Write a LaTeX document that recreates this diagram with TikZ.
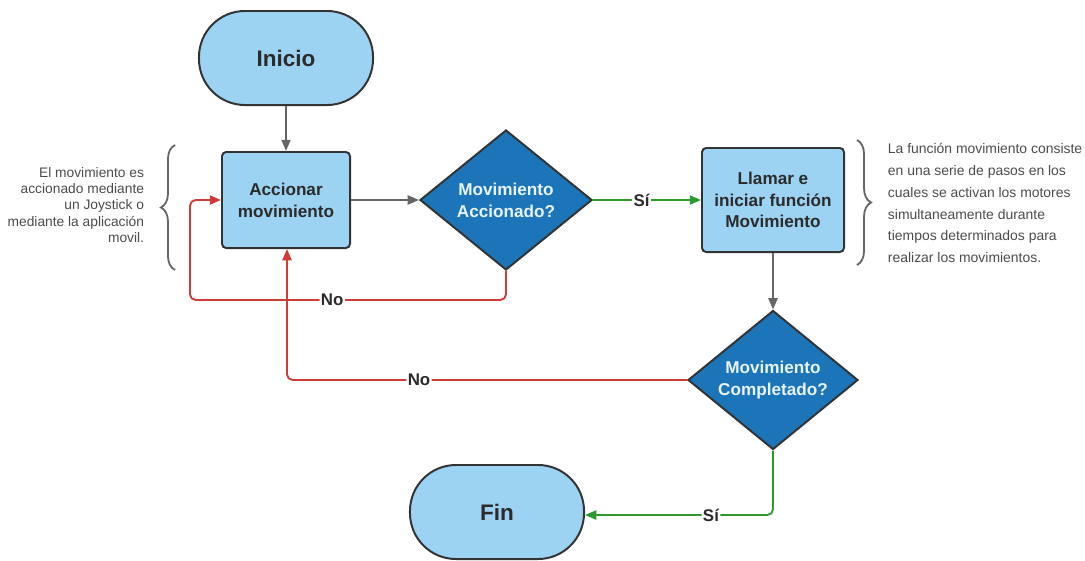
\documentclass[tikz,border=0pt]{standalone}
\usepackage{fontspec}
\setmainfont{Liberation Sans}
\usetikzlibrary{shapes.geometric,arrows.meta,decorations.pathreplacing}
\definecolor{lblue}{HTML}{9DD3F2}
\definecolor{dblue}{HTML}{1B75B8}
\definecolor{edge}{HTML}{333333}
\definecolor{txt}{HTML}{2B2B2B}
\definecolor{dtxt}{HTML}{E8F3FA}
\definecolor{gline}{HTML}{666666}
\definecolor{rline}{HTML}{D23A35}
\definecolor{grline}{HTML}{2E9A2E}
\tikzset{
  px/.style={x=0.025cm,y=-0.025cm},
  term/.style={draw=edge,line width=1.4pt,fill=lblue,rounded corners=1.15cm,minimum width=4.35cm,minimum height=2.35cm,font=\bfseries\fontsize{16}{19}\selectfont,text=txt},
  proc/.style={draw=edge,line width=1.4pt,fill=lblue,rounded corners=3pt,align=center,font=\bfseries\fontsize{12.2}{15.5}\selectfont,text=txt},
  decide/.style={diamond,aspect=1.22,draw=edge,line width=1.4pt,fill=dblue,inner sep=0pt,align=center,font=\bfseries\fontsize{12.2}{15.5}\selectfont,text=dtxt},
  conn/.style={line width=1.3pt,-{Triangle[length=8pt,width=6.5pt]}},
  gconn/.style={conn,draw=gline},
  rconn/.style={conn,draw=rline,rounded corners=4pt},
  grconn/.style={conn,draw=grline,rounded corners=4pt},
  lbl/.style={fill=white,inner sep=1pt,font=\bfseries\fontsize{12}{14}\selectfont,text=txt},
  note/.style={font=\fontsize{9.8}{11.5}\selectfont,text=txt!85},
  brc/.style={draw=gline,line width=1.3pt,decorate,decoration={brace,amplitude=10pt}}
}
\begin{document}
\begin{tikzpicture}[px]
\useasboundingbox (0,0) rectangle (1085,560);
\node[term] (inicio) at (286,58) {Inicio};
\node[proc,minimum width=3.2cm,minimum height=2.4cm] (acc) at (286,200) {Accionar\\movimiento};
\node[decide,minimum width=4.3cm,minimum height=3.5cm] (d1) at (506,200) {Movimiento\\Accionado?};
\node[proc,minimum width=3.55cm,minimum height=2.6cm] (llamar) at (773,200) {Llamar e\\iniciar función\\Movimiento};
\node[decide,minimum width=4.25cm,minimum height=3.475cm] (d2) at (773,380) {Movimiento\\Completado?};
\node[term] (fin) at (497,512) {Fin};

\draw[gconn] (inicio) -- (acc);
\draw[gconn] (acc) -- (d1);
\draw[grconn] (d1.east) -- node[lbl,pos=0.45]{Sí} (llamar.west);
\draw[gconn] (llamar) -- (d2);
\coordinate (r1a) at (506,300);
\coordinate (r1b) at (190,300);
\coordinate (r1c) at (190,200);
\draw[rconn] (d1.south) -- (r1a) -- node[lbl,pos=0.55]{No} (r1b) -- (r1c) -- (acc.west);
\coordinate (r2a) at (287,380);
\draw[rconn] (d2.west) -- node[lbl,pos=0.67]{No} (r2a) -- (acc.south -| r2a);
\coordinate (g2a) at (773,515);
\draw[grconn] (d2.south) -- (g2a) -- node[lbl,pos=0.33]{Sí} (fin.east |- g2a);

\coordinate (lb1) at (175,270);
\coordinate (lb2) at (175,145);
\draw[brc] (lb1) -- (lb2);
\coordinate (rb1) at (857,140);
\coordinate (rb2) at (857,265);
\draw[brc] (rb1) -- (rb2);

\node[note,anchor=east,align=right] (lnote) at (149,205) {El movimiento es\\accionado mediante\\un Joystick o\\mediante la aplicación\\movil.};
\node[note,anchor=west,align=left,font=\fontsize{9.9}{15.6}\selectfont] (rnote) at (883,203) {La función movimiento consiste\\en una serie de pasos en los\\cuales se activan los motores\\simultaneamente durante\\tiempos determinados para\\realizar los movimientos.};
\end{tikzpicture}
\end{document}
